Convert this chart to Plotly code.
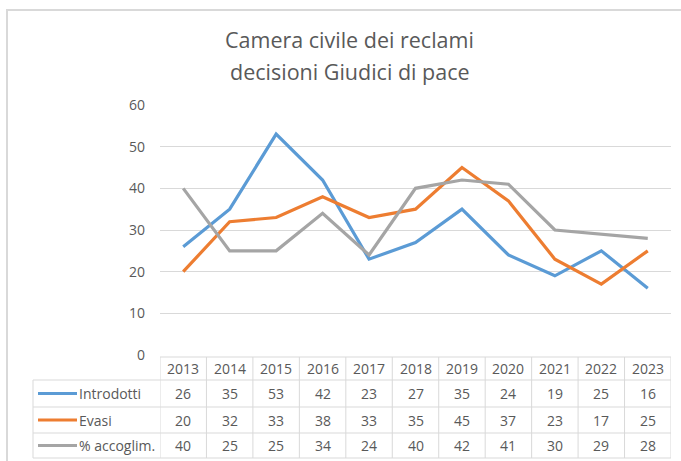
import plotly.graph_objects as go

years = ["2013", "2014", "2015", "2016", "2017", "2018", "2019", "2020", "2021", "2022", "2023"]
introdotti = [26, 35, 53, 42, 23, 27, 35, 24, 19, 25, 16]
evasi = [20, 32, 33, 38, 33, 35, 45, 37, 23, 17, 25]
accoglim = [40, 25, 25, 34, 24, 40, 42, 41, 30, 29, 28]
series_names = ["Introdotti", "Evasi", "% accoglim."]
series_values = [introdotti, evasi, accoglim]
series_colors = ["#5B9BD5", "#ED7D31", "#A5A5A5"]
title_lines = ["Camera civile dei reclami", "decisioni Giudici di pace"]
yticks = [0, 10, 20, 30, 40, 50, 60]

W, H = 681, 461
ML, MR, MT, MB = 160, 10, 105, 106
PH = H - MT - MB
PW = W - ML - MR
FONT = "Open Sans, Noto Sans, sans-serif"
GRID = "#D9D9D9"
TXT = "#595959"

def py(p):  # pixel y -> paper y
    return (H - MB - p) / PH

def px(p):  # pixel x -> paper x
    return (p - ML) / PW

x_idx = list(range(len(years)))
fig = go.Figure()
for name, vals, col in zip(series_names, series_values, series_colors):
    fig.add_trace(go.Scatter(x=x_idx, y=vals, mode="lines", name=name,
                             line=dict(color=col, width=3.2), showlegend=False))

shapes = []
annotations = []
# outer frame
shapes.append(dict(type="rect", xref="paper", yref="paper", x0=px(7), x1=px(700), y0=py(480), y1=py(10),
                   line=dict(color=GRID, width=2), layer="below"))
# table geometry
hdr_top, r1, r2, r3, r4 = 357, 380, 407, 433, 458
n = len(years)
shapes.append(dict(type="line", xref="x", yref="paper", x0=-0.5, x1=n - 0.5, y0=py(hdr_top), y1=py(hdr_top),
                   line=dict(color=GRID, width=1)))
for yy in (r1, r2, r3, r4):
    shapes.append(dict(type="line", xref="paper", yref="paper", x0=px(33), x1=1, y0=py(yy), y1=py(yy),
                       line=dict(color=GRID, width=1)))
for i in range(n + 1):
    shapes.append(dict(type="line", xref="x", yref="paper", x0=i - 0.5, x1=i - 0.5, y0=py(hdr_top), y1=py(r4),
                       line=dict(color=GRID, width=1)))
shapes.append(dict(type="line", xref="paper", yref="paper", x0=px(33), x1=px(33), y0=py(r1), y1=py(r4),
                   line=dict(color=GRID, width=1)))

for i, yr in enumerate(years):
    annotations.append(dict(x=i, y=py((hdr_top + r1) / 2), xref="x", yref="paper", text=yr, showarrow=False,
                            font=dict(family=FONT, size=14, color=TXT), xanchor="center", yanchor="middle"))
rows = [(r1, r2), (r2, r3), (r3, r4)]
for (ya, yb), name, vals, col in zip(rows, series_names, series_values, series_colors):
    yc = (ya + yb) / 2
    shapes.append(dict(type="line", xref="paper", yref="paper", x0=px(38), x1=px(77), y0=py(yc), y1=py(yc),
                       line=dict(color=col, width=3)))
    annotations.append(dict(x=px(77), y=py(yc), xref="paper", yref="paper", text=name, showarrow=False,
                            font=dict(family=FONT, size=14, color=TXT), xanchor="left", yanchor="middle"))
    for i, v in enumerate(vals):
        annotations.append(dict(x=i, y=py(yc), xref="x", yref="paper", text=str(v), showarrow=False,
                                font=dict(family=FONT, size=14, color=TXT), xanchor="center", yanchor="middle"))
for k, t in enumerate(title_lines):
    annotations.append(dict(x=px(349.5), y=py(39 + 32 * k), xref="paper", yref="paper", text=t, showarrow=False,
                            font=dict(family=FONT, size=21.5, color=TXT),
                            xanchor="center", yanchor="middle"))

fig.update_layout(
    width=W, height=H, margin=dict(l=ML, r=MR, t=MT, b=MB),
    paper_bgcolor="white", plot_bgcolor="white",
    shapes=shapes, annotations=annotations,
    xaxis=dict(range=[-0.5, n - 0.5], showticklabels=False, showgrid=False, zeroline=False, fixedrange=True),
    yaxis=dict(range=[0, 60], tickvals=yticks, ticktext=[str(v) for v in yticks], showgrid=True, gridcolor=GRID,
               gridwidth=1, zeroline=False, tickfont=dict(family=FONT, size=14, color=TXT),
               ticklabelstandoff=14, fixedrange=True),
)
fig.write_html("out.html", config={"displayModeBar": False},
               post_script="document.body.style.margin='0';")
